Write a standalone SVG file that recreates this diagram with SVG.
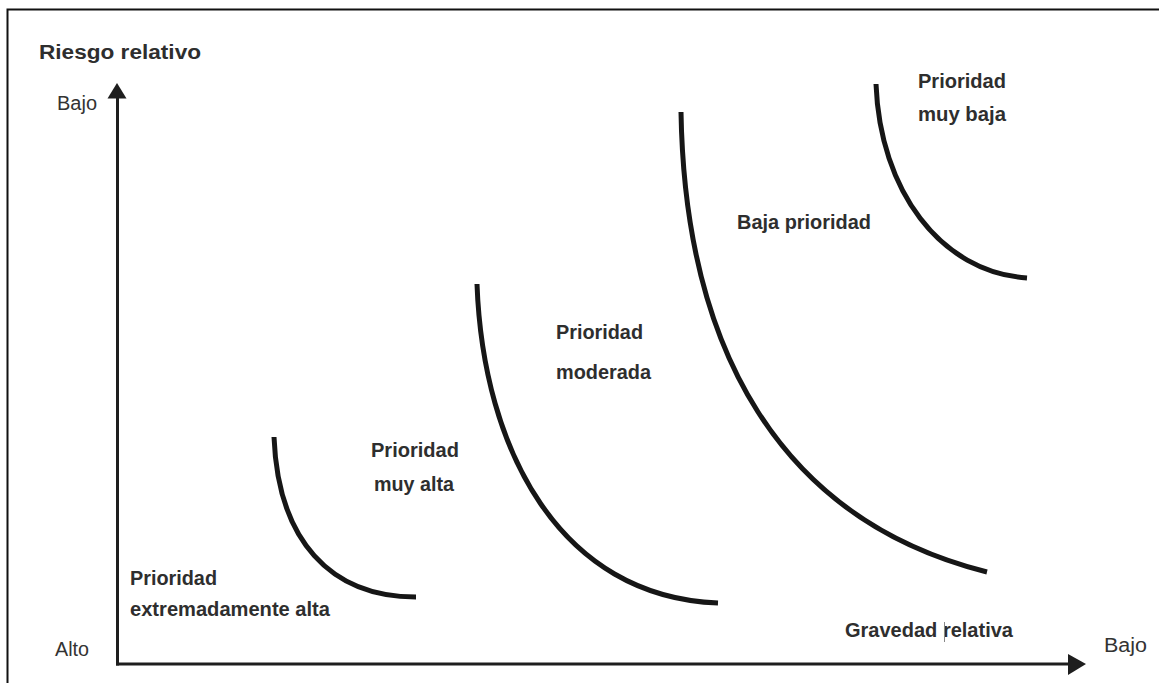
<svg xmlns="http://www.w3.org/2000/svg" width="1159" height="683" viewBox="0 0 1159 683">
  <style>
    .lbl { font-family: "Liberation Sans", Arial, sans-serif; font-weight: bold; font-size: 19.5px; fill: #2e2e2e; }
    .ax { font-family: "Liberation Sans", Arial, sans-serif; font-size: 20px; fill: #333; }
    .curve { fill: none; stroke: #161616; stroke-width: 5; stroke-linecap: butt; }
    .axis { fill: none; stroke: #1e1e1e; stroke-width: 3; }
    .head { fill: #1e1e1e; }
  </style>
  <rect x="0" y="0" width="1159" height="683" fill="#ffffff"/>
  <rect id="frame" x="7.5" y="9.5" width="1200" height="800" fill="none" stroke="#111" stroke-width="2"/>

  <g id="connectors">
    <line class="axis" x1="117.5" y1="96" x2="117.5" y2="665.5"/>
    <polygon class="head" points="117,83 107.5,98.5 126.5,98.5"/>
    <line class="axis" x1="116" y1="664" x2="1070" y2="664"/>
    <polygon class="head" points="1086,664 1068,654 1068,675"/>
  </g>

  <g id="axis-labels">
    <text class="lbl" x="39" y="59" textLength="162" lengthAdjust="spacingAndGlyphs">Riesgo relativo</text>
    <text class="ax" x="57" y="110" textLength="40" lengthAdjust="spacingAndGlyphs">Bajo</text>
    <text class="ax" x="55" y="656" textLength="34" lengthAdjust="spacingAndGlyphs">Alto</text>
    <text class="ax" x="1104" y="652" textLength="43" lengthAdjust="spacingAndGlyphs">Bajo</text>
    <text class="lbl" x="845" y="637" textLength="168" lengthAdjust="spacingAndGlyphs">Gravedad relativa</text>
    <line x1="944.5" y1="622" x2="944.5" y2="642" stroke="#888" stroke-width="1"/>
  </g>

  <g id="zone-extremely-high">
    <path class="curve" d="M274,437 C278,540 330,597 416,597"/>
    <text class="lbl" x="130" y="585" textLength="87" lengthAdjust="spacingAndGlyphs">Prioridad</text>
    <text class="lbl" x="130" y="616" textLength="200" lengthAdjust="spacingAndGlyphs">extremadamente alta</text>
  </g>

  <g id="zone-very-high">
    <path class="curve" d="M477,284 C483,450 560,597 718,603"/>
    <text class="lbl" x="371" y="457" textLength="88" lengthAdjust="spacingAndGlyphs">Prioridad</text>
    <text class="lbl" x="374" y="491" textLength="80" lengthAdjust="spacingAndGlyphs">muy alta</text>
  </g>

  <g id="zone-moderate">
    <path class="curve" d="M681,112 C685,350 780,520 987,572"/>
    <text class="lbl" x="556" y="339" textLength="87" lengthAdjust="spacingAndGlyphs">Prioridad</text>
    <text class="lbl" x="556" y="379" textLength="95" lengthAdjust="spacingAndGlyphs">moderada</text>
  </g>

  <g id="zone-low">
    <path class="curve" d="M876,84 C880,190 940,272 1027,278"/>
    <text class="lbl" x="737" y="229" textLength="134" lengthAdjust="spacingAndGlyphs">Baja prioridad</text>
  </g>

  <g id="zone-very-low">
    <text class="lbl" x="918" y="88" textLength="88" lengthAdjust="spacingAndGlyphs">Prioridad</text>
    <text class="lbl" x="918" y="121" textLength="88" lengthAdjust="spacingAndGlyphs">muy baja</text>
  </g>
</svg>
